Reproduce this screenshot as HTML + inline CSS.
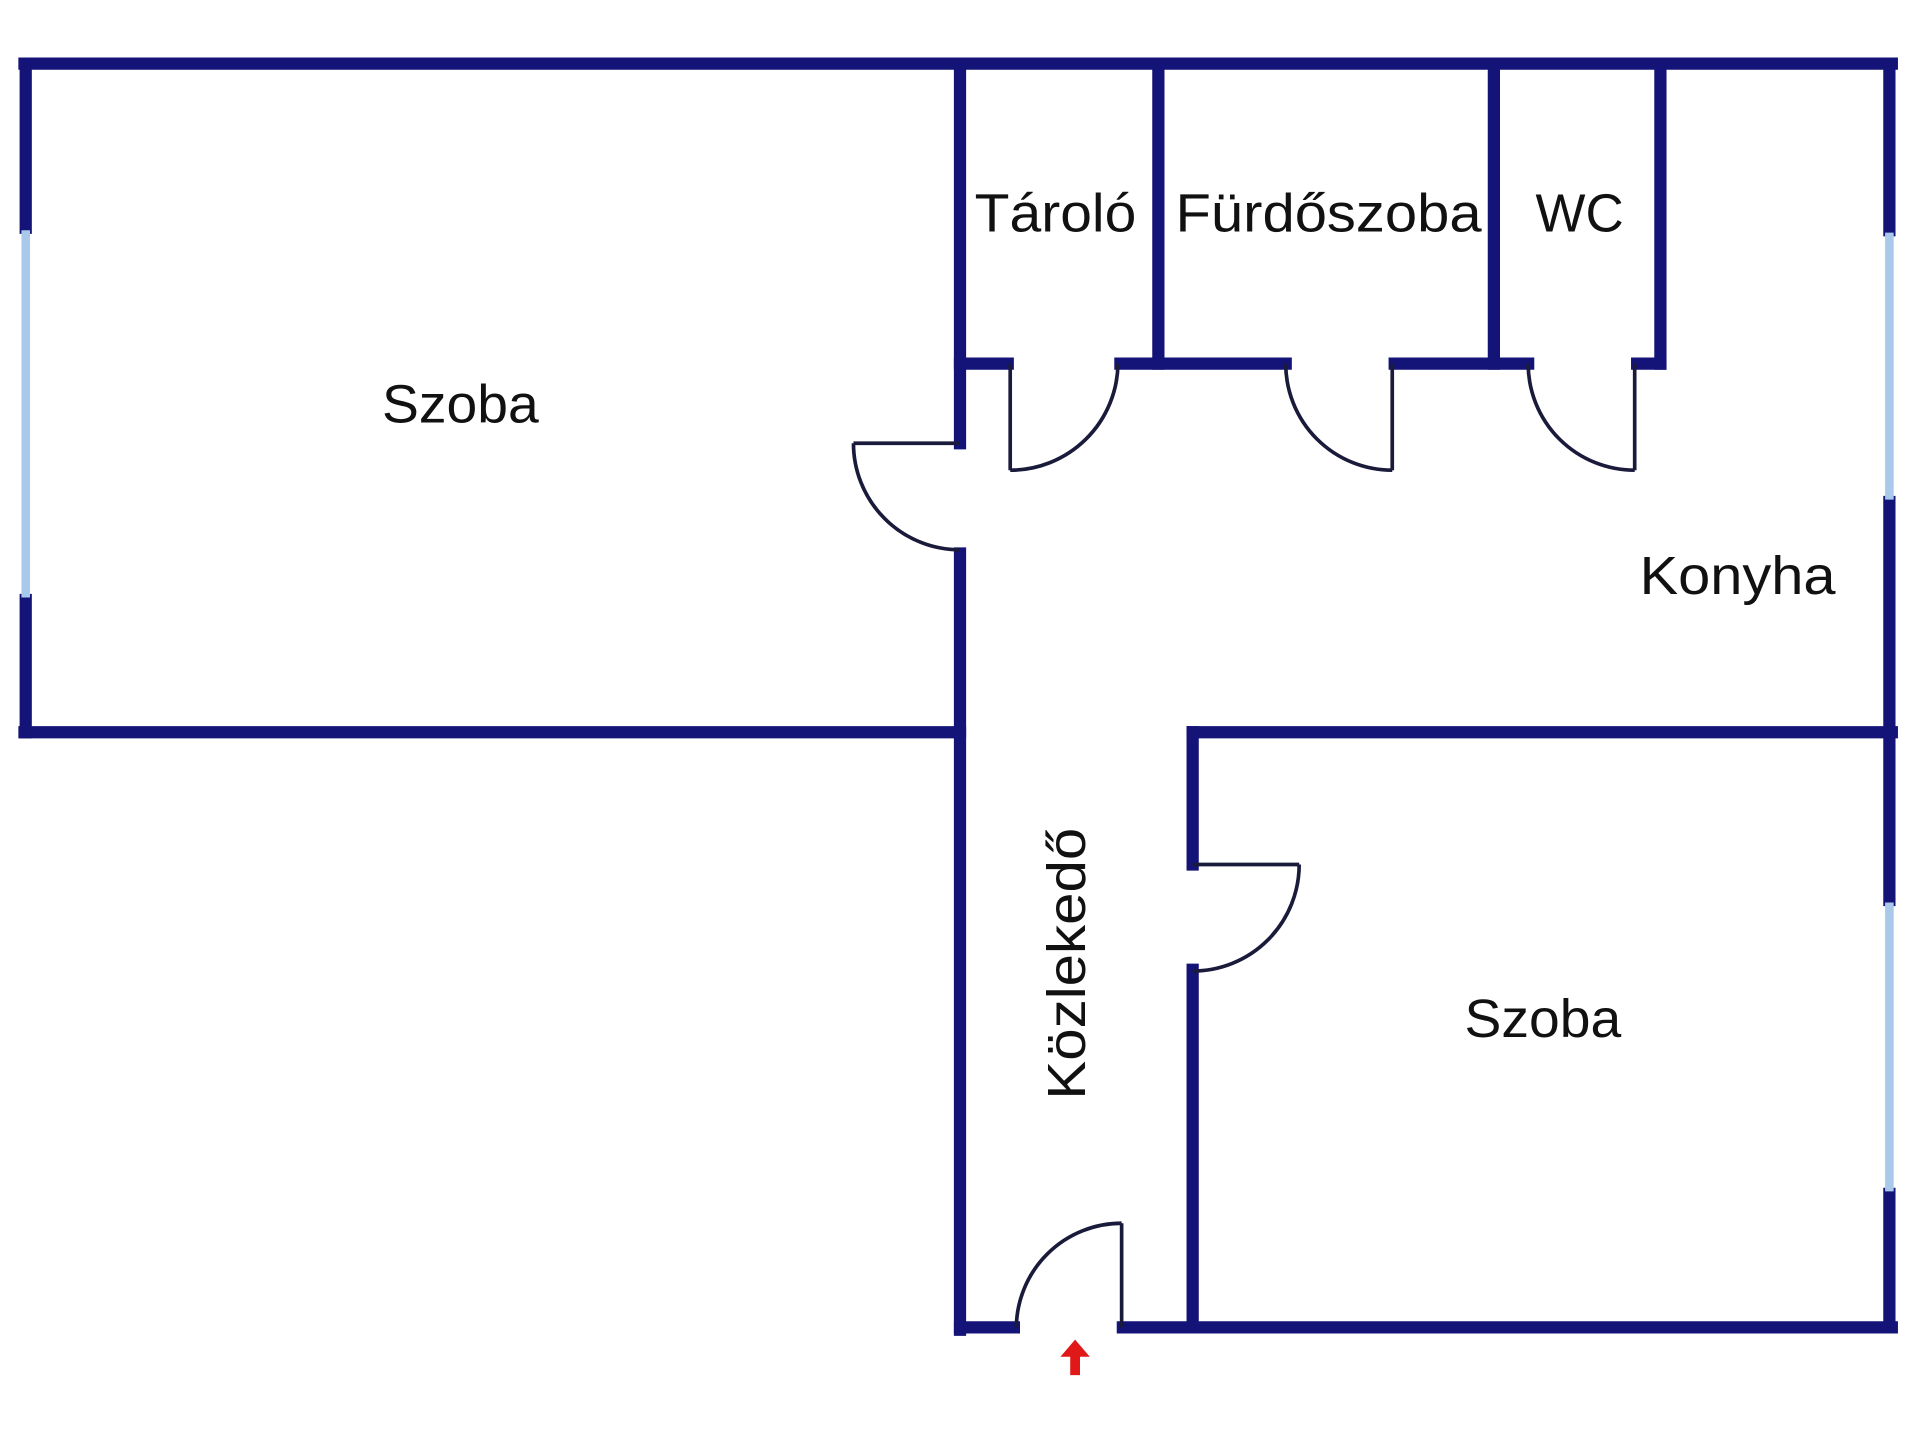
<!DOCTYPE html>
<html><head><meta charset="utf-8"><style>
html,body{margin:0;padding:0;background:#fff;}
svg{display:block;}
text{font-family:"Liberation Sans","DejaVu Sans",sans-serif;fill:#111;font-size:44px;}
</style></head><body>
<svg width="1920" height="1440" viewBox="0 0 1568 1176" preserveAspectRatio="none" xmlns="http://www.w3.org/2000/svg">
<rect width="1568" height="1176" fill="#fff"/>
<g stroke="#141478" stroke-width="10" fill="none" stroke-linecap="square">
<!-- top -->
<line x1="20" y1="52" x2="1545" y2="52"/>
<!-- left outer -->
<line x1="21" y1="52" x2="21" y2="186"/>
<line x1="21" y1="490" x2="21" y2="598"/>
<!-- szoba bottom -->
<line x1="20" y1="598" x2="784" y2="598"/>
<!-- corridor left -->
<line x1="784" y1="52" x2="784" y2="362"/>
<line x1="784" y1="452" x2="784" y2="1086"/>
<!-- small room verticals -->
<line x1="946" y1="52" x2="946" y2="297"/>
<line x1="1220" y1="52" x2="1220" y2="297"/>
<line x1="1356" y1="52" x2="1356" y2="297"/>
<!-- small rooms bottom -->
<line x1="784" y1="297" x2="823" y2="297"/>
<line x1="915" y1="297" x2="1050" y2="297"/>
<line x1="1139" y1="297" x2="1248" y2="297"/>
<line x1="1337" y1="297" x2="1356" y2="297"/>
<!-- right outer -->
<line x1="1543" y1="52" x2="1543" y2="188"/>
<line x1="1543" y1="410" x2="1543" y2="735"/>
<line x1="1543" y1="975" x2="1543" y2="1084"/>
<!-- konyha/szoba divider -->
<line x1="974" y1="598" x2="1545" y2="598"/>
<!-- szoba2 left -->
<line x1="974" y1="598" x2="974" y2="706"/>
<line x1="974" y1="792" x2="974" y2="1084"/>
<!-- bottom -->
<line x1="784" y1="1084" x2="828" y2="1084"/>
<line x1="917" y1="1084" x2="1545" y2="1084"/>
</g>
<g stroke="#a9c9ea" stroke-width="7" fill="none">
<line x1="21" y1="188" x2="21" y2="488"/>
<line x1="1543" y1="190" x2="1543" y2="408"/>
<line x1="1543" y1="737" x2="1543" y2="973"/>
</g>
<!-- doors -->
<g stroke="#1a1a3a" stroke-width="3" fill="none">
<line x1="784" y1="362" x2="697" y2="362"/>
<path d="M697 362 A87 87 0 0 0 784 449"/>
<line x1="825" y1="297" x2="825" y2="384"/>
<path d="M825 384 A88 88 0 0 0 913 297"/>
<line x1="1137" y1="297" x2="1137" y2="384"/>
<path d="M1050 297 A87 87 0 0 0 1137 384"/>
<line x1="1335" y1="297" x2="1335" y2="384"/>
<path d="M1248 297 A87 87 0 0 0 1335 384"/>
<line x1="974" y1="706" x2="1061" y2="706"/>
<path d="M1061 706 A87 87 0 0 1 974 793"/>
<line x1="916" y1="1084" x2="916" y2="999"/>
<path d="M916 999 A86 86 0 0 0 830 1084"/>
</g>
<g stroke="#141478" stroke-width="3">
<line x1="784" y1="362" x2="784" y2="362"/>
</g>
<!-- red arrow -->
<g fill="#e01818" stroke="none">
<polygon points="878,1094 866,1108 874,1108 874,1123 882,1123 882,1108 890,1108"/>
</g>
<!-- labels -->
<text x="376" y="345" text-anchor="middle" textLength="128" lengthAdjust="spacingAndGlyphs">Szoba</text>
<text x="862" y="189" text-anchor="middle" textLength="132" lengthAdjust="spacingAndGlyphs">Tároló</text>
<text x="1085" y="189" text-anchor="middle" textLength="250" lengthAdjust="spacingAndGlyphs">Fürdőszoba</text>
<text x="1290" y="189" text-anchor="middle" textLength="72" lengthAdjust="spacingAndGlyphs">WC</text>
<text x="1419" y="485" text-anchor="middle" textLength="160" lengthAdjust="spacingAndGlyphs">Konyha</text>
<text x="1260" y="847" text-anchor="middle" textLength="128" lengthAdjust="spacingAndGlyphs">Szoba</text>
<text transform="translate(886,787) rotate(-90)" text-anchor="middle" textLength="222" lengthAdjust="spacingAndGlyphs">Közlekedő</text>
</svg>
</body></html>
